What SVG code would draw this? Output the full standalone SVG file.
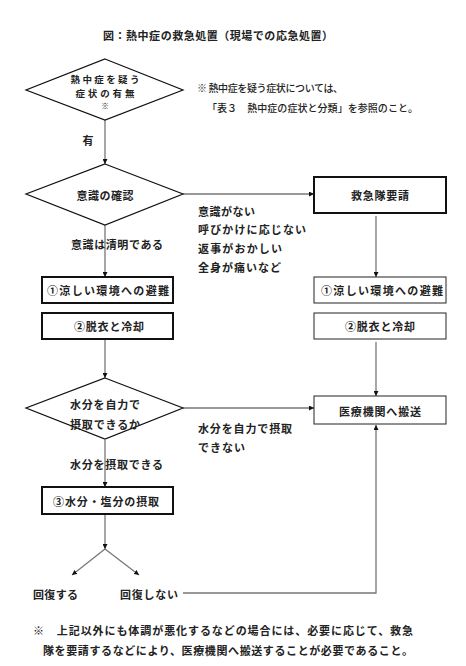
<svg xmlns="http://www.w3.org/2000/svg" width="466" height="666" viewBox="0 0 466 666">
<style>
text{font-family:"Noto Sans CJK JP","Noto Sans CJK SC",sans-serif;font-size:11px;font-weight:700;fill:#222;dominant-baseline:central}
.n{font-weight:500;font-size:10px}
.c{text-anchor:middle}
.s{font-size:9.5px}
.shape{fill:#fff;stroke:#111;stroke-width:1.2}
.thick{fill:#fff;stroke:#111;stroke-width:2}
.thin{fill:#fff;stroke:#222;stroke-width:1}
.ln{fill:none;stroke:#777;stroke-width:1.3}
</style>
<defs>
<marker id="ah" viewBox="0 0 10 10" refX="10" refY="5" markerWidth="5" markerHeight="5" orient="auto" markerUnits="userSpaceOnUse"><path d="M0,0 L10,5 L0,10 z" fill="#111"/></marker>
</defs>
<rect width="466" height="666" fill="#fff"/>
<text x="218" y="35" class="c" textLength="230" lengthAdjust="spacing">図：熱中症の救急処置（現場での応急処置）</text>

<g id="connectors">
<line class="ln" x1="105" y1="120" x2="105" y2="164" marker-end="url(#ah)"/>
<line class="ln" x1="183" y1="194" x2="314" y2="194" marker-end="url(#ah)"/>
<line class="ln" x1="105" y1="225" x2="105" y2="277" marker-end="url(#ah)"/>
<line class="ln" x1="376" y1="216" x2="376" y2="277" marker-end="url(#ah)"/>
<line class="ln" x1="105" y1="339" x2="105" y2="378" marker-end="url(#ah)"/>
<line class="ln" x1="376" y1="342" x2="376" y2="396" marker-end="url(#ah)"/>
<line class="ln" x1="183" y1="408" x2="314" y2="408" marker-end="url(#ah)"/>
<line class="ln" x1="105" y1="440" x2="105" y2="487" marker-end="url(#ah)"/>
<line class="ln" x1="105" y1="514" x2="105" y2="549" marker-end="url(#ah)"/>
<line class="ln" x1="105" y1="549" x2="72" y2="575" marker-end="url(#ah)"/>
<line class="ln" x1="105" y1="549" x2="139" y2="575" marker-end="url(#ah)"/>
<polyline class="ln" points="183,593 376,593 376,425" marker-end="url(#ah)"/>
</g>

<g id="q1">
<polygon class="shape" points="105,59 183,90 105,120 26,90"/>
<text x="105" y="79" class="c s" textLength="69" lengthAdjust="spacing">熱中症を疑う</text>
<text x="105" y="93" class="c s" textLength="59" lengthAdjust="spacing">症状の有無</text>
<text x="105" y="105" class="c n" style="font-size:8px">※</text>
</g>
<g id="note1">
<text x="197" y="87" class="n" textLength="146" lengthAdjust="spacing">※ 熱中症を疑う症状については、</text>
<text x="207" y="107" class="n" textLength="211" lengthAdjust="spacing">「表３　熱中症の症状と分類」を参照のこと。</text>
</g>
<text x="88" y="140" class="c">有</text>

<g id="q2">
<polygon class="shape" points="105,164 183,194 105,225 26,194"/>
<text x="105" y="195" class="c" textLength="57" lengthAdjust="spacing">意識の確認</text>
</g>
<g id="lbl-no">
<text x="198" y="211" textLength="57" lengthAdjust="spacing">意識がない</text>
<text x="198" y="229" textLength="108" lengthAdjust="spacing">呼びかけに応じない</text>
<text x="198" y="248" textLength="84" lengthAdjust="spacing">返事がおかしい</text>
<text x="198" y="267" textLength="83" lengthAdjust="spacing">全身が痛いなど</text>
</g>
<text x="71" y="244" textLength="92" lengthAdjust="spacing">意識は清明である</text>

<g id="call">
<rect class="thick" x="314" y="177" width="132" height="36"/>
<text x="380" y="195" class="c" textLength="58" lengthAdjust="spacing">救急隊要請</text>
</g>
<g id="l1">
<rect class="thick" x="42" y="277" width="131" height="26"/>
<text x="108" y="290" class="c" textLength="122" lengthAdjust="spacing">①涼しい環境への避難</text>
</g>
<g id="l2">
<rect class="thick" x="42" y="313" width="131" height="26"/>
<text x="109" y="326" class="c" textLength="70" lengthAdjust="spacing">②脱衣と冷却</text>
</g>
<g id="r1">
<rect class="thin" x="314" y="277" width="132" height="26"/>
<text x="382" y="290" class="c" textLength="122" lengthAdjust="spacing">①涼しい環境への避難</text>
</g>
<g id="r2">
<rect class="thin" x="314" y="313" width="132" height="26"/>
<text x="380" y="326" class="c" textLength="70" lengthAdjust="spacing">②脱衣と冷却</text>
</g>

<g id="q3">
<polygon class="shape" points="105,378 183,408 105,439 26,408"/>
<text x="70" y="404" textLength="70" lengthAdjust="spacing">水分を自力で</text>
<text x="70" y="424" textLength="70" lengthAdjust="spacing">摂取できるか</text>
</g>
<g id="hosp">
<rect class="thin" x="314" y="396" width="132" height="28"/>
<text x="380" y="411" class="c" textLength="82" lengthAdjust="spacing">医療機関へ搬送</text>
</g>
<text x="198" y="428" textLength="94" lengthAdjust="spacing">水分を自力で摂取</text>
<text x="198" y="447" textLength="47" lengthAdjust="spacing">できない</text>
<text x="70" y="464" textLength="93" lengthAdjust="spacing">水分を摂取できる</text>

<g id="l3">
<rect class="thick" x="42" y="487" width="131" height="27"/>
<text x="106" y="501" class="c" textLength="106" lengthAdjust="spacing">③水分・塩分の摂取</text>
</g>
<text x="33" y="594" textLength="45" lengthAdjust="spacing">回復する</text>
<text x="120" y="594" textLength="58" lengthAdjust="spacing">回復しない</text>

<g id="footer">
<text x="33" y="630" textLength="380" lengthAdjust="spacing">※　上記以外にも体調が悪化するなどの場合には、必要に応じて、救急</text>
<text x="43" y="650" textLength="370" lengthAdjust="spacing">隊を要請するなどにより、医療機関へ搬送することが必要であること。</text>
</g>
</svg>
